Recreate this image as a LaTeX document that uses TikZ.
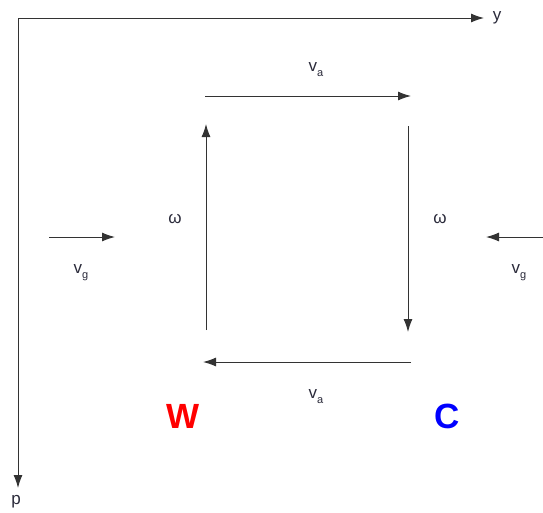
\documentclass[tikz,border=0pt]{standalone}
\usepackage{fontspec}
\setmainfont{Liberation Sans}
\usetikzlibrary{arrows.meta}
\definecolor{txt}{HTML}{2A2A3A}
\newcommand{\subx}[1]{\raisebox{-5pt}{\fontsize{11}{11}\selectfont #1}}
\begin{document}
\begin{tikzpicture}[x=1pt,y=-1pt,
  arr/.style={line width=1pt,draw=black!80,-{Latex[length=13pt,width=9pt]}},
  lbl/.style={font=\fontsize{17}{17}\selectfont,text=txt,inner sep=0pt},
  big/.style={font=\fontsize{35}{35}\selectfont\bfseries,inner sep=0pt}]
\useasboundingbox (0,0) rectangle (543,512);
\coordinate (o) at (18,18);
\coordinate (yend) at (484,18);
\coordinate (pend) at (18,488);
\draw[arr] (o) -- (yend);
\draw[arr] (o) -- (pend);
\node[lbl] (ylab) at (497,18) {y};
\node[lbl] (plab) at (16,502) {p};
% square
\coordinate (t1) at (205,96);
\coordinate (t2) at (411,96);
\coordinate (r1) at (408,126);
\coordinate (r2) at (408,332);
\coordinate (b1) at (411,362);
\coordinate (b2) at (203,362);
\coordinate (l1) at (206,330);
\coordinate (l2) at (206,124);
\draw[arr] (t1) -- (t2);
\draw[arr] (r1) -- (r2);
\draw[arr] (b1) -- (b2);
\draw[arr] (l1) -- (l2);
\node[lbl] (vatop) at (316,70) {v\subx{a}};
\node[lbl] (vabot) at (316,397) {v\subx{a}};
\node[lbl] (wl) at (175,219) {ω};
\node[lbl] (wr) at (440,219) {ω};
% vg
\coordinate (g1) at (49,237);
\coordinate (g2) at (115,237);
\coordinate (h1) at (543,237);
\coordinate (h2) at (486,237);
\draw[arr] (g1) -- (g2);
\draw[arr] (h1) -- (h2);
\node[lbl] (vgl) at (81,273) {v\subx{g}};
\node[lbl] (vgr) at (519,273) {v\subx{g}};
\node[big,text=red] (W) at (183,416) {W};
\node[big,text=blue] (C) at (447,416) {C};
\end{tikzpicture}
\end{document}
